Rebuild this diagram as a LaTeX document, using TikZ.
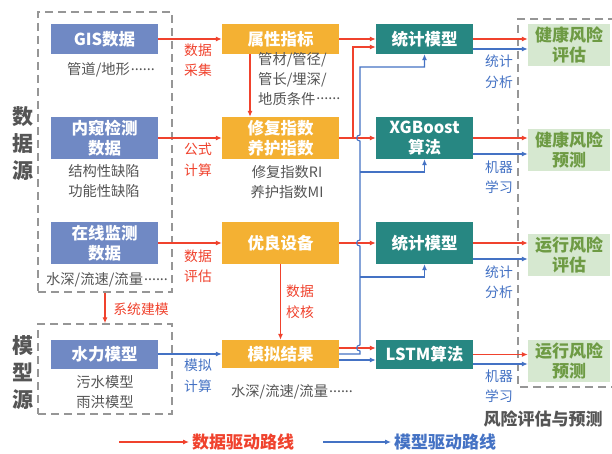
\documentclass[tikz,border=0pt]{standalone}
\usepackage{fontspec}
\setmainfont{Noto Sans CJK SC}
\usetikzlibrary{arrows.meta,calc}
\definecolor{cblue}{RGB}{112,137,196}
\definecolor{corange}{RGB}{244,177,51}
\definecolor{cteal}{RGB}{39,135,130}
\definecolor{cgreen}{RGB}{214,232,208}
\definecolor{cgreentext}{RGB}{110,155,68}
\definecolor{cred}{RGB}{240,66,45}
\definecolor{cline}{RGB}{68,114,196}
\definecolor{cgray}{RGB}{85,85,85}
\definecolor{cdash}{RGB}{150,150,150}
\newcommand\mydots{\kern1pt\raisebox{0.3em}{......}}
\tikzset{
 boxtext/.style={text=white, font=\bfseries\fontsize{16.5}{20}\selectfont, align=center, inner sep=0pt},
 bbox/.style={boxtext, fill=cblue, minimum width=107pt},
 obox/.style={boxtext, fill=corange, minimum width=117pt},
 tbox/.style={boxtext, fill=cteal, minimum width=97pt},
 gbox/.style={fill=cgreen, text=cgreentext, font=\bfseries\fontsize{17}{20.5}\selectfont, align=center, inner sep=0pt, minimum width=82pt, minimum height=42pt},
 note/.style={text=cgray, font=\fontsize{14.3}{20}\selectfont, align=center, inner sep=0pt},
 rlab/.style={text=cred, font=\fontsize{13.8}{20.5}\selectfont, align=center, inner sep=0pt},
 blab/.style={text=cline, font=\fontsize{13.8}{20.5}\selectfont, align=center, inner sep=0pt},
 biglab/.style={text=cgray, font=\bfseries\fontsize{21}{27}\selectfont, align=center, inner sep=0pt},
 rarr/.style={draw=cred, line width=1.1pt, -{Latex[length=6pt,width=5pt]}},
 barr/.style={draw=cline, line width=1.1pt, -{Latex[length=6pt,width=5pt]}},
 dbox/.style={draw=cdash, dash pattern=on 8pt off 5pt, line width=1.4pt, inner sep=0pt},
}
\begin{document}
\begin{tikzpicture}[x=1pt,y=-1pt]
\useasboundingbox (0,0) rectangle (612,454);
\fill[white] (0,0) rectangle (612,454);
% dashed frames
\node[dbox, minimum width=134pt, minimum height=280pt] (src) at (105,152) {};
\node[dbox, minimum width=134pt, minimum height=90pt] (mdl) at (105,369) {};
\draw[dbox] (616,19) -| (518,387) -- (616,387);
\node[biglab] (srcl) at (23,144) {数\\据\\源};
\node[biglab] (mdll) at (23,373) {模\\型\\源};
\node[text=cgray, font=\bfseries\fontsize{17}{20}\selectfont, inner sep=0pt] (riskl) at (543,419) {风险评估与预测};

% left column
\node[bbox, minimum height=30pt] (gis) at (104.5,39) {GIS数据};
\node[note] (gisn) at (111,70) {管道/地形\mydots};
\node[bbox, minimum height=42pt] (nk) at (104.5,138) {内窥检测\\数据};
\node[note] (nkn) at (104,181) {结构性缺陷\\功能性缺陷};
\node[bbox, minimum height=42pt] (zx) at (104.5,243) {在线监测\\数据};
\node[note] (zxn) at (107,280) {水深/流速/流量\mydots};
\node[bbox, minimum height=29pt] (sl) at (104.5,354) {水力模型};
\node[note] (sln) at (105,392) {污水模型\\雨洪模型};

% middle column
\node[obox, minimum height=30pt] (sx) at (280.5,39) {属性指标};
\node[note, align=left, anchor=north west] (sxn) at (258,52) {管材/管径/\\管长/埋深/\\地质条件\mydots};
\node[obox, minimum height=42pt] (xf) at (280.5,138) {修复指数\\养护指数};
\node[note] (xfn) at (287,182) {修复指数RI\\养护指数MI};
\node[obox, minimum height=42pt] (yl) at (280.5,243) {优良设备};
\node[obox, minimum height=28pt] (mn) at (280.5,354) {模拟结果};
\node[note] (mnn) at (292,392) {水深/流速/流量\mydots};

% teal column
\node[tbox, minimum height=30pt] (tj1) at (424.5,39) {统计模型};
\node[tbox, minimum height=42pt] (xgb) at (424.5,138) {XGBoost\\算法};
\node[tbox, minimum height=42pt] (tj2) at (424.5,243) {统计模型};
\node[tbox, minimum height=29pt] (lstm) at (424.5,354.5) {LSTM算法};

% green column
\node[gbox] (g1) at (569,45) {健康风险\\评估};
\node[gbox] (g2) at (569,150) {健康风险\\预测};
\node[gbox] (g3) at (569,255) {运行风险\\评估};
\node[gbox] (g4) at (569,361) {运行风险\\预测};

% labels
\node[rlab] (l1) at (198,60) {数据\\采集};
\node[rlab] (l2) at (198,160) {公式\\计算};
\node[rlab] (l3) at (198,266) {数据\\评估};
\node[blab] (l4) at (198,376) {模拟\\计算};
\node[rlab] (l5) at (300,302) {数据\\校核};
\node[rlab] (l6) at (141,309) {系统建模};
\node[blab] (l7) at (499,72) {统计\\分析};
\node[blab] (l8) at (499,177) {机器\\学习};
\node[blab] (l9) at (499,282) {统计\\分析};
\node[blab] (l10) at (499,386) {机器\\学习};

% left -> middle
\draw[rarr] (gis.east) -- (sx.west);
\draw[rarr] (nk.east) -- (xf.west);
\draw[rarr] (zx.east) -- (yl.west);
\draw[barr] (sl.east) -- (mn.west);
\draw[rarr] (src.south) -- (mdl.north);
\draw[rarr] ([xshift=-30.5pt]sx.south) -- ([xshift=-30.5pt]xf.north);
\draw[rarr] (yl.south) -- (mn.north);

% middle -> teal (red)
\draw[rarr] (sx.east) -- (tj1.west);
\draw[rarr] (xf.east) -- (xgb.west);
\coordinate (rj) at (353,47);
\draw[rarr] (xf.east) -| (rj) -- (tj1.west |- rj);
\draw[rarr] (yl.east) -- (tj2.west);
\draw[rarr] ([yshift=6pt]mn.east) coordinate (mr) -- (mr -| lstm.west);
\draw[barr] ([yshift=-6pt]mn.east) coordinate (mb) -- (mb -| lstm.west);

% blue trunk with jumps
\coordinate (bt) at (360,67);
\draw[barr] (mn.east) -- (360,354) -- (360,351)
  .. controls (355.5,351) and (355.5,345) .. (360,345) -- (360,246)
  .. controls (355.5,246) and (355.5,240) .. (360,240) -- (360,141)
  .. controls (355.5,141) and (355.5,135) .. (360,135) -- (bt) -| (tj1.south);
\coordinate (b2) at (360,172);
\coordinate (b3) at (360,277);
\draw[barr] (b2) -| (xgb.south);
\draw[barr] (b3) -| (tj2.south);

% teal -> green
\draw[rarr] (tj1.east) -- (tj1.east -| g1.west);
\draw[barr] ([yshift=-10pt]tj1.east) coordinate (t1b) -- (t1b -| g1.west);
\draw[rarr] (xgb.east) -- (xgb.east -| g2.west);
\draw[barr] ([yshift=-16pt]xgb.east) coordinate (t2b) -- (t2b -| g2.west);
\draw[rarr] (tj2.east) -- (tj2.east -| g3.west);
\draw[barr] ([yshift=-16pt]tj2.east) coordinate (t3b) -- (t3b -| g3.west);
\draw[rarr] (lstm.east) -- (lstm.east -| g4.west);
\draw[barr] ([yshift=-9.5pt]lstm.east) coordinate (t4b) -- (t4b -| g4.west);

% legend
\node[text=cred, font=\bfseries\fontsize{17}{20}\selectfont, anchor=west, inner sep=3pt] (lg1) at (189,442) {数据驱动路线};
\draw[rarr] ([xshift=-70pt]lg1.west) -- (lg1.west);
\node[text=cline, font=\bfseries\fontsize{17}{20}\selectfont, anchor=west, inner sep=3pt] (lg2) at (391,442) {模型驱动路线};
\draw[barr] ([xshift=-68pt]lg2.west) -- (lg2.west);
\end{tikzpicture}
\end{document}
